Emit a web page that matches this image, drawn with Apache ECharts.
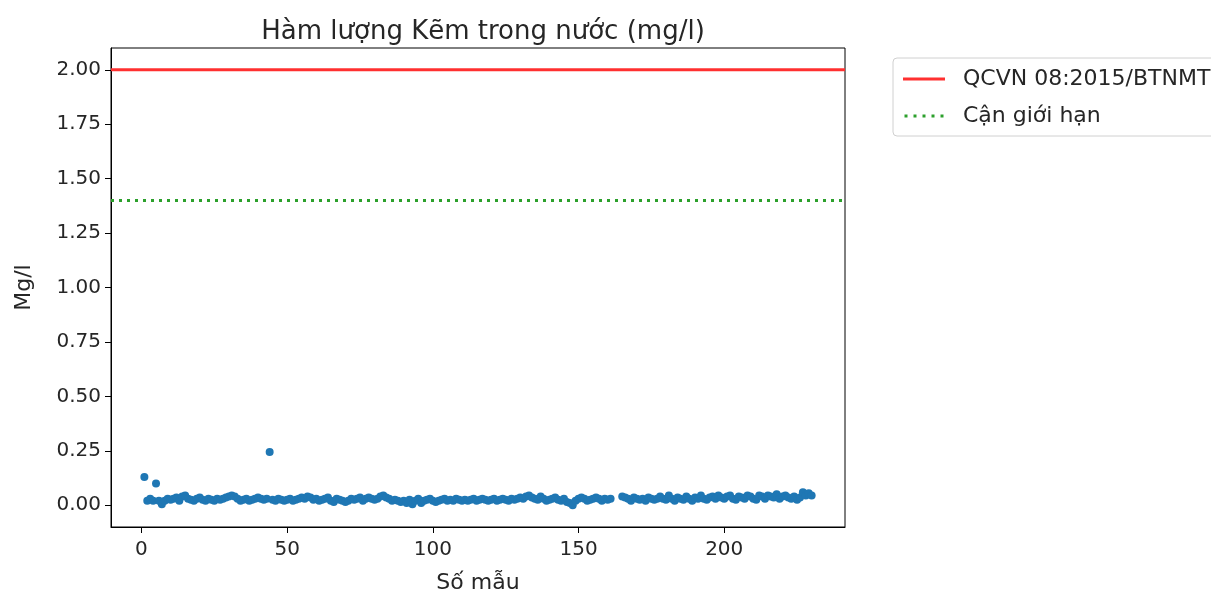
<!DOCTYPE html>
<html>
<head>
<meta charset="utf-8">
<script src="https://cdn.jsdelivr.net/npm/echarts@6/dist/echarts.min.js"></script>
<style>
html,body{margin:0;padding:0;background:#fff;}
#chart{width:1211px;height:595px;}
</style>
</head>
<body>
<div id="chart"></div>
<script>
// ---- data ----
const titleText = "Hàm lượng Kẽm trong nước (mg/l)";
const xName = "Số mẫu";
const yName = "Mg/l";
const limitName = "QCVN 08:2015/BTNMT";
const nearName = "Cận giới hạn";
const limitValue = 2.0;
const nearValue = 1.4;
const xTicks = [0, 50, 100, 150, 200];
const yTicks = [0, 0.25, 0.5, 0.75, 1.0, 1.25, 1.5, 1.75, 2.0];
const xStart = 1;
// zinc concentration per sample (null = no measurement)
const zinc = [
  0.13, 0.02, 0.03, 0.02, 0.10, 0.02, 0.005, 0.02, 0.03, 0.025,
  0.03, 0.035, 0.02, 0.04, 0.045, 0.03, 0.025, 0.02, 0.03, 0.035,
  0.025, 0.02, 0.03, 0.025, 0.02, 0.03, 0.025, 0.03, 0.035, 0.04,
  0.045, 0.04, 0.03, 0.02, 0.025, 0.03, 0.02, 0.025, 0.03, 0.035,
  0.03, 0.025, 0.03, 0.245, 0.025, 0.02, 0.03, 0.025, 0.02, 0.025,
  0.03, 0.02, 0.025, 0.03, 0.035, 0.03, 0.04, 0.035, 0.025, 0.03,
  0.02, 0.025, 0.03, 0.035, 0.02, 0.015, 0.03, 0.025, 0.02, 0.015,
  0.02, 0.03, 0.025, 0.03, 0.035, 0.02, 0.03, 0.035, 0.03, 0.025,
  0.03, 0.04, 0.045, 0.035, 0.03, 0.02, 0.025, 0.02, 0.015, 0.02,
  0.01, 0.025, 0.005, 0.02, 0.03, 0.01, 0.02, 0.025, 0.03, 0.02,
  0.015, 0.02, 0.025, 0.03, 0.02, 0.025, 0.02, 0.03, 0.025, 0.02,
  0.025, 0.02, 0.025, 0.03, 0.02, 0.025, 0.03, 0.025, 0.02, 0.025,
  0.03, 0.02, 0.025, 0.03, 0.025, 0.02, 0.03, 0.025, 0.03, 0.035,
  0.03, 0.04, 0.045, 0.035, 0.03, 0.025, 0.04, 0.03, 0.02, 0.025,
  0.03, 0.035, 0.025, 0.02, 0.03, 0.015, 0.01, 0.0, 0.02, 0.03,
  0.035, 0.03, 0.02, 0.025, 0.03, 0.035, 0.03, 0.02, 0.03, 0.025,
  0.03, null, null, null, 0.04, 0.035, 0.03, 0.02, 0.035, 0.03,
  0.025, 0.03, 0.02, 0.035, 0.03, 0.025, 0.03, 0.04, 0.03, 0.025,
  0.045, 0.03, 0.02, 0.035, 0.03, 0.025, 0.04, 0.03, 0.02, 0.035,
  0.03, 0.045, 0.03, 0.025, 0.035, 0.04, 0.03, 0.045, 0.035, 0.03,
  0.04, 0.045, 0.03, 0.025, 0.04, 0.035, 0.03, 0.045, 0.04, 0.03,
  0.025, 0.045, 0.04, 0.03, 0.045, 0.04, 0.035, 0.05, 0.03, 0.04,
  0.045, 0.035, 0.03, 0.04, 0.025, 0.035, 0.06, 0.045, 0.055, 0.045
];
// axis limits (matplotlib-style 5% margins)
const xMin = -10.45, xMax = 241.45;
const yMin = -0.1, yMax = 2.1;

// ---- build ----
const points = [];
zinc.forEach((v, i) => { if (v !== null) points.push([xStart + i, v]); });
const font = "DejaVu Sans";
const txt = "#262626";
const red = '#ff3030';
const green = '#2ca02c';
const dotIcon = 'path://M0,0h3v3h-3z M9,0h3v3h-3z M18,0h3v3h-3z M27,0h3v3h-3z M36,0h3v3h-3z';

const chart = echarts.init(document.getElementById('chart'), null, {renderer: 'canvas'});
chart.setOption({
  animation: false,
  backgroundColor: '#fff',
  title: {
    text: titleText, left: 478, top: 14, textAlign: 'center',
    textStyle: {fontFamily: font, fontSize: 26, fontWeight: 'normal', color: txt}
  },
  legend: {
    orient: 'vertical', left: 893, top: 58,
    data: [
      {name: limitName, icon: 'rect', itemStyle: {color: red}},
      {name: nearName, icon: dotIcon, itemStyle: {color: green}}
    ],
    itemWidth: 42, itemHeight: 3, itemGap: 13,
    padding: [9, 30, 8, 10],
    borderColor: '#d0d0d0', borderWidth: 1, borderRadius: 4,
    textStyle: {fontFamily: font, fontSize: 22, color: txt, padding: [0, 0, 0, 13], lineHeight: 24}
  },
  grid: {left: 111, right: 366, top: 48, bottom: 68, outerBoundsMode: 'none', containLabel: false,
    show: true, borderColor: '#000', borderWidth: 1},
  xAxis: {
    type: 'value', min: xMin, max: xMax,
    name: xName, nameLocation: 'middle', nameGap: 45,
    nameTextStyle: {fontFamily: font, fontSize: 22, color: txt},
    axisLine: {onZero: false, lineStyle: {color: '#000'}},
    axisTick: {show: true, length: 6, lineStyle: {color: '#000'}, customValues: xTicks},
    axisLabel: {fontFamily: font, fontSize: 20, color: txt, margin: 13, customValues: xTicks},
    splitLine: {show: false}
  },
  yAxis: {
    type: 'value', min: yMin, max: yMax,
    name: yName, nameLocation: 'middle', nameGap: 76, nameRotate: 90,
    nameTextStyle: {fontFamily: font, fontSize: 22, color: txt},
    axisLine: {onZero: false, lineStyle: {color: '#000'}},
    axisTick: {show: true, length: 6, lineStyle: {color: '#000'}, customValues: yTicks},
    axisLabel: {fontFamily: font, fontSize: 20, color: txt, margin: 10, customValues: yTicks,
      formatter: v => v.toFixed(2)},
    splitLine: {show: false}
  },
  series: [
    {
      name: limitName, type: 'line', symbol: 'none',
      data: [[xMin, limitValue], [xMax, limitValue]],
      lineStyle: {color: red, width: 3},
      itemStyle: {color: red}, z: 3
    },
    {
      name: nearName, type: 'line', symbol: 'none',
      data: [[xMin, nearValue], [xMax, nearValue]],
      lineStyle: {color: green, width: 3, type: [3, 5]},
      itemStyle: {color: green}, z: 3
    },
    {
      name: 'Zn', type: 'scatter', data: points, symbolSize: 8,
      itemStyle: {color: '#1f77b4', opacity: 1}, z: 2
    }
  ]
});
</script>
</body>
</html>
